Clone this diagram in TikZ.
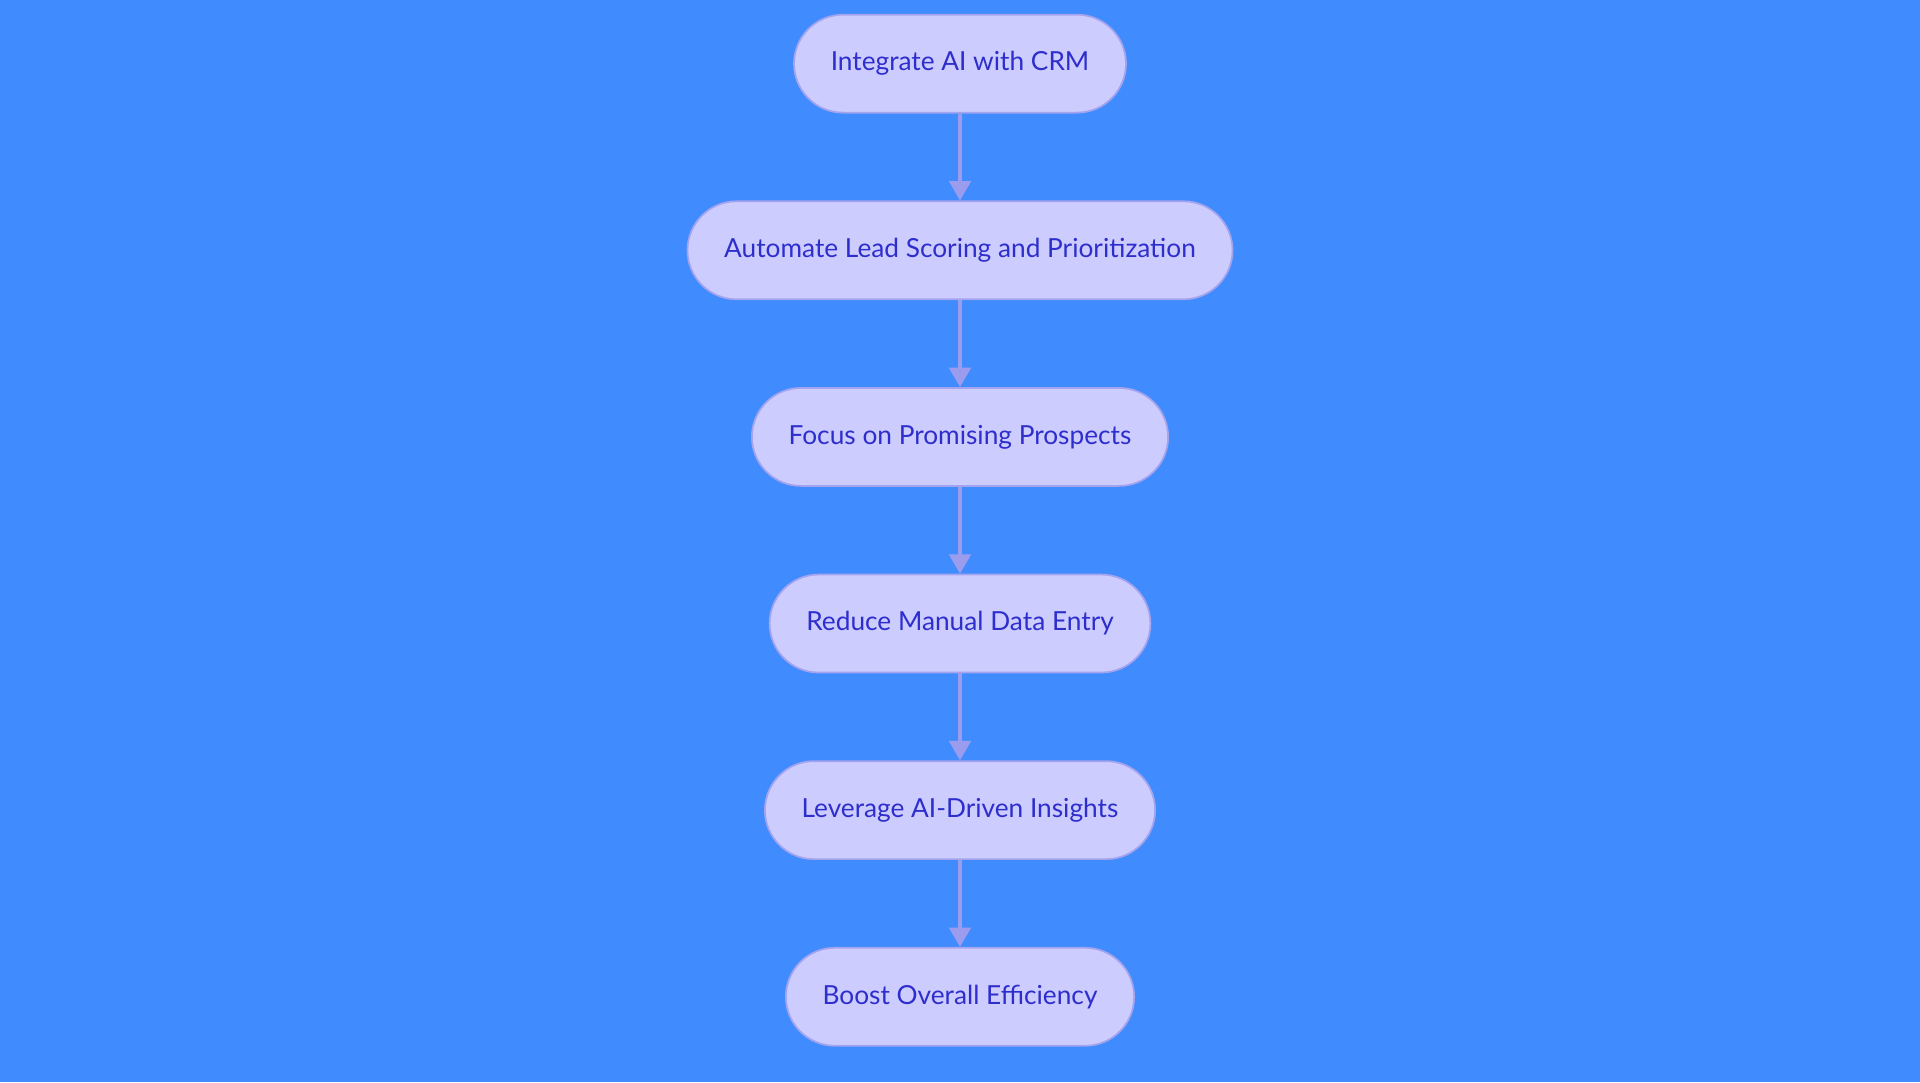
\documentclass[tikz,border=0pt]{standalone}
\usepackage{fontspec}
\setmainfont{Lato}
\usetikzlibrary{positioning,arrows.meta}
\definecolor{bgblue}{HTML}{408CFF}
\definecolor{stepfill}{HTML}{CCCCFF}
\definecolor{stepdraw}{HTML}{A3A3EE}
\definecolor{steptext}{HTML}{2E2ECC}
\definecolor{flowline}{HTML}{9C9CEE}
\begin{document}
\begin{tikzpicture}[
    node distance=1.42cm,
    % Step styles
    flow-step/.style={draw=stepdraw, thick, fill=stepfill, text=steptext, rounded corners=0.8cm,
        minimum height=1.6cm, inner xsep=0.6cm, font=\fontsize{12.2}{14}\selectfont},
    % Arrow styles
    flow/.style={-{Triangle[width=10pt,length=9pt]}, flowline, line width=1.6pt},
]

% Background
\fill[bgblue] (0,0) rectangle (31.36,-17.68);
\useasboundingbox (0,0) rectangle (31.36,-17.68);

% === STEPS ===
\node[flow-step] (integrate) at (15.68,-1.04) {Integrate AI with CRM};
\node[flow-step, below=of integrate] (automate) {Automate Lead Scoring and Prioritization};
\node[flow-step, below=of automate] (focus) {Focus on Promising Prospects};
\node[flow-step, below=of focus] (reduce) {Reduce Manual Data Entry};
\node[flow-step, below=of reduce] (leverage) {Leverage AI-Driven Insights};
\node[flow-step, below=of leverage] (boost) {Boost Overall Efficiency};

% === FLOW ===
\draw[flow] (integrate) -- (automate);
\draw[flow] (automate) -- (focus);
\draw[flow] (focus) -- (reduce);
\draw[flow] (reduce) -- (leverage);
\draw[flow] (leverage) -- (boost);

\end{tikzpicture}
\end{document}
